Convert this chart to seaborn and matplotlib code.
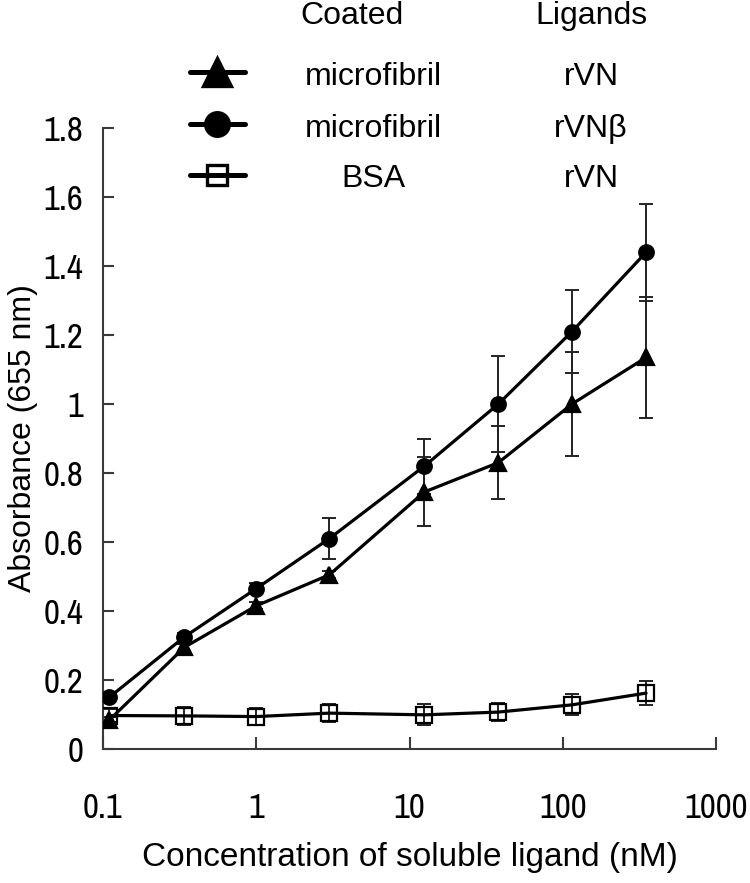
import numpy as np
import pandas as pd
import matplotlib
matplotlib.use("Agg")
import matplotlib.pyplot as plt
import matplotlib.font_manager as fm
from matplotlib.lines import Line2D
import seaborn as sns

# data
conc = [0.11, 0.34, 1.0, 3.0, 12.5, 38, 115, 350]

rvn_micro = [0.084, 0.295, 0.415, 0.505, 0.745, 0.83, 1.0, 1.135]
rvn_micro_err = [0.01, 0.01, 0.01, 0.01, 0.10, 0.105, 0.15, 0.175]

rvnb_micro = [0.15, 0.325, 0.465, 0.61, 0.82, 1.0, 1.21, 1.44]
rvnb_micro_err = [0.01, 0.01, 0.015, 0.06, 0.08, 0.14, 0.12, 0.14]

rvn_bsa = [0.097, 0.096, 0.094, 0.104, 0.099, 0.107, 0.128, 0.162]
rvn_bsa_err = [0.02, 0.025, 0.025, 0.025, 0.03, 0.025, 0.03, 0.035]

coated = ["microfibril", "microfibril", "BSA"]
ligands = ["rVN", "rVN\u03b2", "rVN"]

x_ticks = [0.1, 1, 10, 100, 1000]
x_ticklabels = ["0.1", "1", "10", "100", "1000"]
y_ticks = [0, 0.2, 0.4, 0.6, 0.8, 1.0, 1.2, 1.4, 1.6, 1.8]
y_ticklabels = ["0", "0.2", "0.4", "0.6", "0.8", "1", "1.2", "1.4", "1.6", "1.8"]

sns.set_style("ticks")
plt.rcParams['font.family'] = ['Liberation Sans', 'DejaVu Sans']
plt.rcParams['text.color'] = 'black'

# narrow font for the tick numbers if one is installed
narrow_file = None
for key in ["Narrow", "Condensed"]:
    for f in fm.fontManager.ttflist:
        fn = f.fname
        if key in f.name or key in fn:
            if f.style == "normal" and f.weight in (400, "normal", "regular") and "Mono" not in fn:
                narrow_file = fn
                break
    if narrow_file:
        break
if narrow_file:
    tick_fp = fm.FontProperties(fname=narrow_file, size=25)
else:
    tick_fp = fm.FontProperties(family="Liberation Sans", size=22)

FS = 23
W, H = 750, 883

fig = plt.figure(figsize=(W / 100, H / 100), dpi=100)
ax = fig.add_axes([103 / W, 1 - 749 / H, 613 / W, 621 / H])

series = [
    (rvn_micro, rvn_micro_err, dict(marker="^", markerfacecolor="black")),
    (rvnb_micro, rvnb_micro_err, dict(marker="o", markerfacecolor="black")),
    (rvn_bsa, rvn_bsa_err, dict(marker="s", markerfacecolor="none")),
]
plot_sizes = [12, 10.5, 12]
legend_sizes = [20, 17, 15]

for (vals, err, mk), ms in zip(series, plot_sizes):
    df = pd.DataFrame({"conc": conc, "abs": vals})
    ax.errorbar(conc, vals, yerr=err, fmt="none", ecolor="#222222",
                elinewidth=1.4, capsize=5, capthick=1.4, zorder=2)
    sns.lineplot(data=df, x="conc", y="abs", ax=ax, color="black",
                 linewidth=2.3, estimator=None, errorbar=None, markersize=ms,
                 markeredgecolor="black", markeredgewidth=1.6, zorder=3, **mk)

ax.set_xscale("log")
ax.set_xlim(0.1, 1000)
ax.set_ylim(0, 1.8)
ax.set_xticks(x_ticks)
ax.set_xticklabels(x_ticklabels, fontproperties=tick_fp)
ax.minorticks_off()
ax.set_yticks(y_ticks)
ax.set_yticklabels(y_ticklabels, fontproperties=tick_fp)

for s in ["top", "right"]:
    ax.spines[s].set_visible(False)
for s in ["left", "bottom"]:
    ax.spines[s].set_linewidth(1.5)
    ax.spines[s].set_color("#3a3a3a")

ax.tick_params(axis="x", direction="in", length=9, width=1.5, color="#3a3a3a",
               labelcolor="black", pad=31)
ax.tick_params(axis="y", direction="in", length=8, width=1.5, color="#3a3a3a",
               labelcolor="black", pad=14)

ax.set_xlabel("Concentration of soluble ligand (nM)", fontsize=FS + 1, color="black")
ax.set_ylabel("Absorbance (655 nm)", fontsize=FS, color="black")
ax.xaxis.set_label_coords(0.5, -(842 - 749) / 621)
ax.xaxis.label.set_va("top")
ax.yaxis.set_label_coords(-(103 - 38) / 613, 0.5)

# legend drawn as a small table above the plot
fig.text(352 / W, 1 - 24 / H, "Coated", fontsize=FS, ha="center", va="baseline")
fig.text(591 / W, 1 - 24 / H, "Ligands", fontsize=FS, ha="center", va="baseline")
rows_y = [72, 124, 175]
rows_base = [85, 137, 187]
for (vals, err, mk), lms, name, lig, ry, rb in zip(series, legend_sizes, coated,
                                                  ligands, rows_y, rows_base):
    yy = 1 - ry / H
    fig.add_artist(Line2D([190 / W, 245 / W], [yy, yy], color="black",
                          linewidth=3.6, transform=fig.transFigure))
    fig.add_artist(Line2D([217.5 / W], [yy], color="black", linestyle="none",
                          markersize=lms, markeredgecolor="black",
                          markeredgewidth=2.4, transform=fig.transFigure, **mk))
    fig.text(373 / W, 1 - rb / H, name, fontsize=FS, ha="center", va="baseline")
    fig.text(591 / W, 1 - rb / H, lig, fontsize=FS, ha="center", va="baseline")

fig.savefig("out.png", dpi=100)
